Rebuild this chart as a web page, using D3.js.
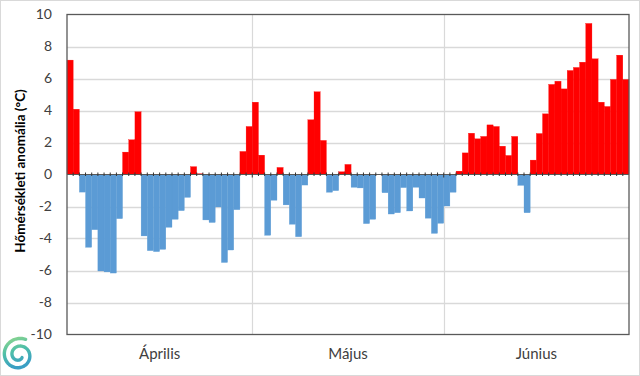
<!DOCTYPE html>
<html>
<head>
<meta charset="utf-8">
<script src="https://cdn.jsdelivr.net/npm/d3@7"></script>
<style>
  html, body { margin: 0; padding: 0; background: #fff; }
  svg { display: block; font-family: Lato, "Liberation Sans", sans-serif; }
</style>
</head>
<body>
<div class="content"></div>
<script>
// daily temperature anomalies (°C)
var aprilis = [7.15, 4.08, -1.1, -4.55, -3.45, -6.03, -6.09, -6.16, -2.76, 1.4,
    2.17, 3.92, -3.84, -4.76, -4.82, -4.68, -3.3, -2.8, -2.26, -1.43,
    0.49, 0.05, -2.84, -3.0, -2.03, -5.5, -4.72, -2.2, 1.44, 3.0];
var majus = [4.52, 1.21, -3.8, -1.61, 0.44, -1.9, -3.11, -3.89, -0.66, 3.42,
    5.17, 2.13, -1.11, -1.01, 0.17, 0.63, -0.8, -0.84, -3.07, -2.8,
    0, -1.14, -2.47, -2.39, -0.82, -2.28, -0.8, -1.47, -2.73, -3.68, -3.05];
var junius = [-1.97, -1.11, 0.21, 1.35, 2.58, 2.23, 2.38, 3.1, 3.0, 1.77,
    1.19, 2.38, -0.68, -2.39, 0.9, 2.56, 3.79, 5.63, 5.83, 5.35,
    6.5, 6.69, 7.02, 9.44, 7.23, 4.52, 4.25, 5.94, 7.46, 5.94];
var months = ['Április', 'Május', 'Június'];
var yTicks = [-10, -8, -6, -4, -2, 0, 2, 4, 6, 8, 10];
var yTitle = 'Hőmérsékleti anomália (°C)';

var chart = {
    width: 640,
    height: 376,
    left: 67,
    right: 629,
    top: 14.5,
    bottom: 334.5,
    warm: '#ff0000',
    cold: '#5b9bd5',
    grid: '#d9d9d9',
    axis: '#595959',
    text: '#404040'
};

window.onload = function() {
    var monthData = [aprilis, majus, junius];
    var days = [];
    var monthStart = [];
    monthData.forEach(function(vals, m) {
        monthStart.push(days.length);
        vals.forEach(function(v, i) {
            days.push({ id: days.length, month: m, day: i + 1, value: v });
        });
    });

    var svg = d3.select('.content').append('svg')
        .attr('width', chart.width)
        .attr('height', chart.height);

    // outer frame
    svg.append('rect')
        .attr('x', 0.5).attr('y', 0.5)
        .attr('width', chart.width - 1).attr('height', chart.height - 1)
        .style('fill', '#fff')
        .style('stroke', '#d9d9d9');

    var x = d3.scaleBand()
        .domain(days.map(function(d) { return d.id; }))
        .range([chart.left, chart.right])
        .padding(0);
    var y = d3.scaleLinear()
        .domain([-10, 10])
        .range([chart.bottom, chart.top]);

    // horizontal gridlines
    svg.append('g')
        .selectAll('line')
        .data(yTicks.filter(function(t) { return t !== 0 && Math.abs(t) !== 10; }))
        .enter().append('line')
        .attr('x1', chart.left).attr('x2', chart.right)
        .attr('y1', function(d) { return Math.round(y(d)) + 0.5; })
        .attr('y2', function(d) { return Math.round(y(d)) + 0.5; })
        .style('stroke', chart.grid)
        .style('stroke-width', 1.5);

    // month separators
    svg.append('g')
        .selectAll('line')
        .data(monthStart.slice(1))
        .enter().append('line')
        .attr('x1', function(d) { return Math.round(x(d)) + 0.5; })
        .attr('x2', function(d) { return Math.round(x(d)) + 0.5; })
        .attr('y1', chart.top).attr('y2', chart.bottom)
        .style('stroke', chart.grid)
        .style('stroke-width', 1.2);

    // bars
    svg.append('g')
        .selectAll('rect')
        .data(days)
        .enter().append('rect')
        .attr('x', function(d) { return x(d.id); })
        .attr('width', x.bandwidth())
        .attr('y', function(d) { return y(Math.max(0, d.value)); })
        .attr('height', function(d) { return Math.abs(y(d.value) - y(0)); })
        .style('fill', function(d) { return d.value >= 0 ? chart.warm : chart.cold; })
        .style('stroke', function(d) { return d.value >= 0 ? chart.warm : chart.cold; })
        .style('stroke-width', 0.3);

    // zero axis with a tick at every day boundary
    var zeroY = y(0);
    svg.append('line')
        .attr('x1', chart.left).attr('x2', chart.right)
        .attr('y1', zeroY).attr('y2', zeroY)
        .style('stroke', chart.axis)
        .style('stroke-width', 1);
    svg.append('g')
        .selectAll('line')
        .data(days.slice(1))
        .enter().append('line')
        .attr('x1', function(d) { return x(d.id); })
        .attr('x2', function(d) { return x(d.id); })
        .attr('y1', zeroY - 2)
        .attr('y2', function(d) { return d.day === 1 ? zeroY + 3 : zeroY + 1.5; })
        .style('stroke', '#333')
        .style('stroke-width', 1);

    // plot frame
    svg.append('rect')
        .attr('x', chart.left).attr('y', chart.top)
        .attr('width', chart.right - chart.left)
        .attr('height', chart.bottom - chart.top)
        .style('fill', 'none')
        .style('stroke', chart.axis)
        .style('stroke-width', 1.3);

    // y axis labels
    var yAxis = d3.axisLeft(y).tickValues(yTicks).tickSize(0).tickPadding(15)
        .tickFormat(function(d) { return d; });
    var ya = svg.append('g')
        .attr('transform', 'translate(' + chart.left + ',0)')
        .call(yAxis);
    ya.select('.domain').remove();
    ya.selectAll('text')
        .style('font-family', 'Lato, "Liberation Sans", sans-serif')
        .style('font-size', '14px')
        .style('fill', chart.text);

    // month labels
    svg.append('g')
        .selectAll('text')
        .data(months)
        .enter().append('text')
        .attr('x', function(d, i) {
            var a = x(monthStart[i]);
            var b = i + 1 < monthStart.length ? x(monthStart[i + 1]) : chart.right;
            return (a + b) / 2;
        })
        .attr('y', 359)
        .attr('text-anchor', 'middle')
        .style('font-size', '15px')
        .style('fill', chart.text)
        .text(function(d) { return d; });

    // y title
    svg.append('text')
        .attr('transform', 'translate(25,171) rotate(-90)')
        .attr('text-anchor', 'middle')
        .style('font-size', '13.5px')
        .style('font-weight', 'bold')
        .style('fill', '#000')
        .text(yTitle);

    // logo swirl (decoration)
    var grad = svg.append('defs').append('linearGradient')
        .attr('id', 'logoGrad')
        .attr('x1', '0').attr('y1', '0').attr('x2', '0.3').attr('y2', '1');
    grad.append('stop').attr('offset', '0').attr('stop-color', '#8fd68c');
    grad.append('stop').attr('offset', '0.5').attr('stop-color', '#4fbfa8');
    grad.append('stop').attr('offset', '1').attr('stop-color', '#3a9fc4');
    var spiral = d3.range(0, 1.001, 0.01).map(function(t) {
        return [0.4 - t * 3.4 * Math.PI, 17 - t * 13];
    });
    svg.append('path')
        .attr('transform', 'translate(19,355)')
        .attr('d', d3.lineRadial().curve(d3.curveCardinal)(spiral))
        .style('fill', 'none')
        .style('stroke', 'url(#logoGrad)')
        .style('stroke-width', 3.4)
        .style('stroke-linecap', 'round');
};
</script>
</body>
</html>
